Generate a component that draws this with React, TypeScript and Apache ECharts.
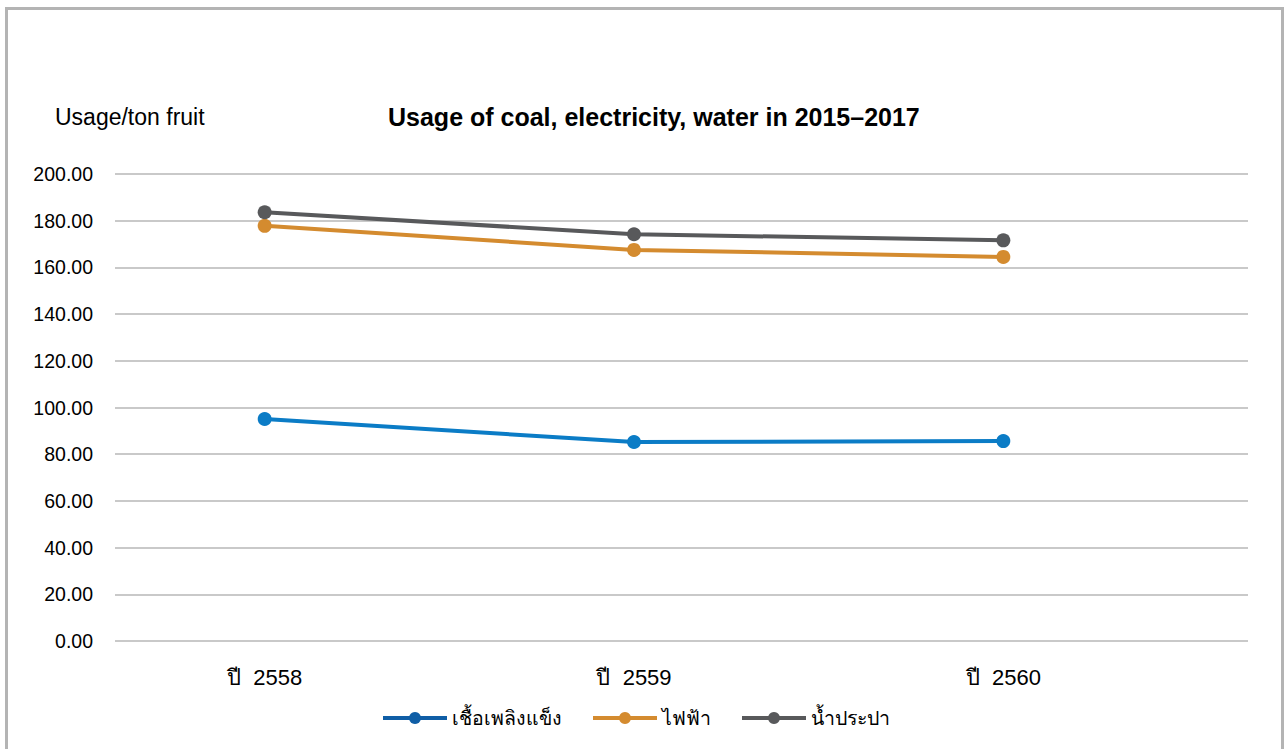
import React, { useEffect, useRef } from "react";
import * as echarts from "echarts";

const years = ["ปี  2558", "ปี  2559", "ปี  2560"];
const coal = [95.1, 85.2, 85.6];
const electricity = [177.8, 167.5, 164.5];
const water = [183.6, 174.2, 171.6];
const seriesNames = ["เชื้อเพลิงแข็ง", "ไฟฟ้า", "น้ำประปา"];
const yTicks = { min: 0, max: 200, interval: 20 };

const FONT = "'Liberation Sans', Arial, 'Noto Sans', sans-serif";

export default function App() {
  const ref = useRef<HTMLDivElement>(null);

  useEffect(() => {
    document.body.style.margin = "0";
    const chart = echarts.init(ref.current!, null, { renderer: "svg" });
    const lineColors = ["#0b7cc6", "#d48b2f", "#58595b"];
    const legendColors = ["#0f5ea6", "#d48b2f", "#58595b"];
    const values = [coal, electricity, water];

    chart.setOption({
      animation: false,
      backgroundColor: "#ffffff",
      textStyle: { fontFamily: FONT },
      title: [
        {
          text: "Usage of coal, electricity, water in 2015–2017",
          left: 383,
          top: 99,
          textStyle: { fontSize: 25, fontWeight: "bold", color: "#000", fontFamily: FONT },
        },
        {
          text: "Usage/ton fruit",
          left: 50,
          top: 100,
          textStyle: { fontSize: 23, fontWeight: "normal", color: "#000", fontFamily: FONT },
        },
      ],
      legend: {
        bottom: 16,
        left: 376,
        itemWidth: 64,
        itemHeight: 15,
        itemGap: 29,
        textStyle: { fontSize: 19.5, color: "#000", fontFamily: FONT },
        data: seriesNames.map((n, i) => ({
          name: n,
          itemStyle: { color: legendColors[i] },
          lineStyle: { color: legendColors[i], width: 4 },
        })),
      },
      grid: [
        { left: 115, right: 39, top: 174, bottom: 108 },
        { left: 80, width: 1108, top: 174, bottom: 108 },
      ],
      xAxis: [
        { type: "category", gridIndex: 0, data: years, show: false },
        {
          type: "category",
          gridIndex: 1,
          data: years,
          axisLine: { show: false },
          axisTick: { show: false },
          axisLabel: { fontSize: 22, color: "#000", margin: 25, fontFamily: FONT },
        },
      ],
      yAxis: [
        {
          type: "value",
          gridIndex: 0,
          ...yTicks,
          axisLine: { show: false },
          axisTick: { show: false },
          axisLabel: {
            fontSize: 19.5,
            color: "#000",
            margin: 22,
            fontFamily: FONT,
            formatter: (v: number) => v.toFixed(2),
          },
          splitLine: { lineStyle: { color: "#c9c9c9", width: 2 } },
        },
        { type: "value", gridIndex: 1, ...yTicks, show: false },
      ],
      series: seriesNames.map((n, i) => ({
        name: n,
        type: "line",
        xAxisIndex: 1,
        yAxisIndex: 1,
        data: values[i],
        symbol: "circle",
        symbolSize: 14,
        lineStyle: { color: lineColors[i], width: 4 },
        itemStyle: { color: lineColors[i] },
      })),
      graphic: [
        {
          type: "rect",
          shape: { x: 6.5, y: 8.5, width: 1276, height: 760 },
          style: { fill: "none", stroke: "#b4b4b4", lineWidth: 3 },
          silent: true,
        },
      ],
    });
    return () => chart.dispose();
  }, []);

  return <div ref={ref} style={{ width: 1287, height: 749 }} />;
}
